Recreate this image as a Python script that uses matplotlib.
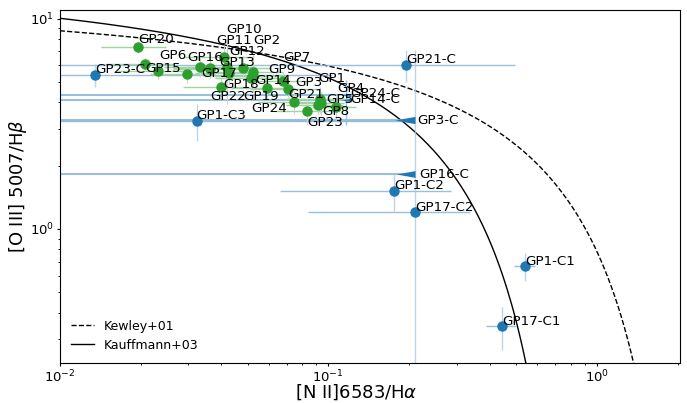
import numpy as np
import matplotlib
matplotlib.use('Agg')
from matplotlib import pyplot as plt
from matplotlib.path import Path

# star-forming regions (GP) : [NII]/Ha, [OIII]/Hb and errors
gp_names = ['GP1', 'GP2', 'GP3', 'GP4', 'GP5', 'GP6', 'GP7', 'GP8', 'GP9', 'GP10', 'GP11', 'GP12',
            'GP13', 'GP14', 'GP15', 'GP16', 'GP17', 'GP18', 'GP19', 'GP20', 'GP21', 'GP22', 'GP23', 'GP24']
gp_n2 = [0.0934, 0.0526, 0.0710, 0.107, 0.0918, 0.0207, 0.0680, 0.0940, 0.0526, 0.0418, 0.0407, 0.0428,
         0.0364, 0.0593, 0.0233, 0.0297, 0.0334, 0.0397, 0.0479, 0.0195, 0.0748, 0.0364, 0.0835, 0.0517]
gp_o3 = [4.16, 5.59, 4.64, 3.81, 3.89, 6.10, 5.07, 3.98, 5.35, 5.91, 6.59, 5.53,
         5.84, 4.69, 5.65, 5.47, 5.91, 4.75, 5.84, 7.36, 4.02, 5.78, 3.65, 5.24]
gp_n2_err = [0.025, 0.015, 0.020, 0.020, 0.022, 0.006, 0.018, 0.020, 0.015, 0.012, 0.012, 0.011,
             0.010, 0.016, 0.007, 0.008, 0.009, 0.011, 0.013, 0.0053, 0.020, 0.010, 0.020, 0.014]
gp_o3_err = [0.6, 1.1, 0.5, 0.5, 0.4, 0.4, 0.5, 0.5, 0.6, 2.0, 0.9, 0.7,
             0.6, 0.5, 0.5, 0.5, 0.6, 0.5, 0.8, 0.5, 0.5, 0.5, 0.5, 0.6]

# clumps (C) with measured values
c_names = ['GP23-C', 'GP21-C', 'GP1-C3', 'GP1-C2', 'GP17-C2', 'GP1-C1', 'GP17-C1']
c_n2 = [0.0135, 0.195, 0.0323, 0.176, 0.210, 0.539, 0.444]
c_o3 = [5.41, 6.04, 3.27, 1.52, 1.205, 0.667, 0.345]
c_n2_err = [0.09, 0.30, 0.178, 0.11, 0.126, 0.05, 0.057]
c_o3_err = [0.65, 1.05, 0.65, 0.30, 5.9, 0.10, 0.08]

# clumps with [NII] upper limits
ul_names = ['GP3-C', 'GP16-C', 'GP24-C', 'GP14-C']
ul_n2 = [0.210, 0.210, 0.121, 0.121]
ul_o3 = [3.30, 1.83, 4.35, 4.11]
ul_o3_err = [0.0, 0.0, 0.0, 1.0]

# label offsets in points
gp_off = {'GP1': (-1.4, 12.2), 'GP2': (0, 20.2), 'GP3': (5, 2.2), 'GP4': (0.7, 10.8), 'GP5': (5.8, 1.4),
          'GP6': (10.8, 3.6), 'GP7': (0, 14.4), 'GP8': (0.7, -8.6), 'GP9': (10.8, 2.2), 'GP10': (0, 24.5),
          'GP11': (-5, 9.4), 'GP12': (0, 13), 'GP13': (6.5, 1.4), 'GP14': (-8.6, 2.9), 'GP15': (-9.4, -0.7),
          'GP16': (0.7, 9.4), 'GP17': (0.7, -7.2), 'GP18': (2.2, -0.7), 'GP19': (0.7, -23), 'GP20': (0.7, 2.9),
          'GP21': (-4.3, 2.9), 'GP22': (0, -22.3), 'GP23': (0, -10.8), 'GP24': (0, -24.5)}
ul_off = {'GP3-C': (2, -3), 'GP16-C': (3, -3), 'GP24-C': (0, -1.5), 'GP14-C': (0, -2)}
ul_size = {'GP3-C': 29, 'GP16-C': 27, 'GP24-C': 14, 'GP14-C': 14}

BLUE = '#1f77b4'
GREEN = '#2ca02c'

fig = plt.figure(figsize=(6.87, 4.03), dpi=100)
ax = fig.add_axes([0.087, 0.099, 0.903, 0.876])
ax.set_xscale('log')
ax.set_yscale('log')

# demarcation lines
xk = np.logspace(-2, 0.46, 400)
ax.plot(xk, 10 ** (0.61 / (np.log10(xk) - 0.47) + 1.19), 'k--', lw=1, label='Kewley+01')
xf = np.logspace(-2, 0.04, 400)
ax.plot(xf, 10 ** (0.61 / (np.log10(xf) - 0.05) + 1.3), 'k-', lw=1, label='Kauffmann+03')

# upper limits: line to the left plus a wedge
wedge = Path([(0, 0.18), (0, -0.18), (-1, 0), (0, 0.18)],
             [Path.MOVETO, Path.LINETO, Path.LINETO, Path.CLOSEPOLY])
for name, x, y, ye in zip(ul_names, ul_n2, ul_o3, ul_o3_err):
    ax.hlines(y, 0.005, x, color='#7fb0d3', lw=1.5, alpha=0.8, zorder=2)
    if ye > 0:
        ax.vlines(x * 0.96, y - ye, y + ye, color='#9cc3de', lw=1, zorder=2)
    ax.plot(x, y, marker=wedge, ms=ul_size[name], color=BLUE, mew=0, ls='none', zorder=4)
    ax.annotate(name, (x, y), xytext=ul_off[name], textcoords='offset points',
                fontsize=9.7, va='baseline', zorder=6)

# clumps
ax.errorbar(c_n2, c_o3, xerr=c_n2_err, fmt='none', ecolor='#7fb0d3', elinewidth=1, alpha=0.8, zorder=2)
ax.errorbar(c_n2, c_o3, yerr=c_o3_err, fmt='none', ecolor='#a9cbe3', elinewidth=1, alpha=0.8, zorder=2)
ax.plot(c_n2, c_o3, 'o', color=BLUE, ms=6.5, ls='none', zorder=4)
for name, x, y in zip(c_names, c_n2, c_o3):
    ax.annotate(name, (x, y), xytext=(0, 1), textcoords='offset points',
                fontsize=9.7, va='baseline', zorder=6)

# GPs
ax.errorbar(gp_n2, gp_o3, xerr=gp_n2_err, fmt='none', ecolor='#9fd49f', elinewidth=1, zorder=3)
ax.errorbar(gp_n2, gp_o3, yerr=gp_o3_err, fmt='none', ecolor='#d0d0d0', elinewidth=0.8, zorder=3)
ax.plot(gp_n2, gp_o3, 'o', color=GREEN, ms=6.5, ls='none', zorder=5)
for name, x, y in zip(gp_names, gp_n2, gp_o3):
    ax.annotate(name, (x, y), xytext=gp_off[name], textcoords='offset points',
                fontsize=9.7, va='baseline', zorder=6)

ax.set_xlim(0.01, 2.04)
ax.set_ylim(0.23, 11.0)
ax.set_xlabel(r'[N II]6583/H$\alpha$', fontsize=13)
ax.set_ylabel(r'[O III] 5007/H$\beta$', fontsize=13)
ax.xaxis.set_label_coords(0.478, -0.055)
ax.yaxis.set_label_coords(-0.05, 0.5)
ax.tick_params(which='major', labelsize=9.5, length=2.5, pad=1.5)
ax.tick_params(which='minor', length=1.5)
ax.legend(loc='lower left', frameon=False, fontsize=9, handlelength=1.8)

plt.savefig('out.png', dpi=100)
